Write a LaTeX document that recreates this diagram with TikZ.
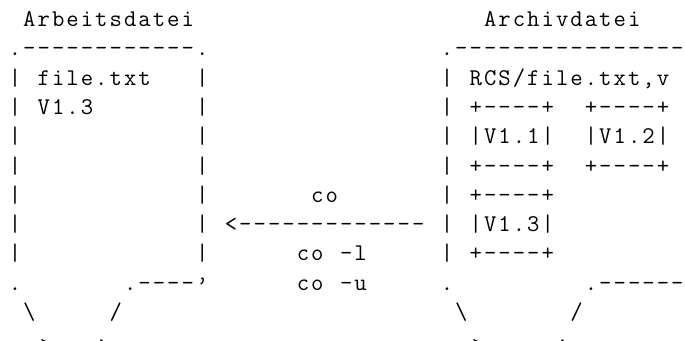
\documentclass[tikz,border=0pt]{standalone}
\usepackage{fontspec}
\setmonofont{Latin Modern Mono}
\newlength\cellw
\setlength\cellw{14.4pt}
% set a string one glyph per fixed-width cell
\def\monorow#1{\monorowi#1\relax}
\def\monorowi#1{\ifx#1\relax\else\hbox to\cellw{\hss#1\hss}\expandafter\monorowi\fi}
\newcommand\asciifont{\ttfamily\fontsize{24}{29}\selectfont}
\tikzset{asc/.style={inner sep=0pt, outer sep=0pt, anchor=base west, font=\asciifont}}
% #1 name, #2 column, #3 row, #4 text
\newcommand\cellat[4]{\node[asc] (#1) at ({7.8+14.4*#2},{340-26.7-29.27*#3}) {\monorow{#4}};}
% a single quote-like glyph, shifted down by #5 in its cell
\newcommand\tickat[5]{\node[asc] (#1) at ({7.8+14.4*#2},{340-26.7-29.27*#3}) {\hbox to\cellw{\hss\raisebox{-#5}{#4}\hss}};}
\begin{document}
\begin{tikzpicture}[x=1pt,y=1pt]
\fill[white] (0,0) rectangle (685,340);
\useasboundingbox (0,0) rectangle (685,340);
\clip (0,0) rectangle (685,340);
% titles
\cellat{wtitle}{1}{0}{Arbeitsdatei}
\cellat{atitle}{33}{0}{Archivdatei}
% working file
\cellat{wtop}{0}{1}{.------------.}
\cellat{wl2}{0}{2}{|}\cellat{wname}{2}{2}{file.txt}\cellat{wr2}{13}{2}{|}
\cellat{wl3}{0}{3}{|}\cellat{wver}{2}{3}{V1.3}\cellat{wr3}{13}{3}{|}
\cellat{wl4}{0}{4}{|}\cellat{wr4}{13}{4}{|}
\cellat{wl5}{0}{5}{|}\cellat{wr5}{13}{5}{|}
\cellat{wl6}{0}{6}{|}\cellat{wr6}{13}{6}{|}
\cellat{wl7}{0}{7}{|}\cellat{wr7}{13}{7}{|}
\cellat{wl8}{0}{8}{|}\cellat{wr8}{13}{8}{|}
\cellat{wbl}{0}{9}{.}\cellat{wbr}{8}{9}{.----}\tickat{wbq}{13}{9}{’}{2pt}
\cellat{wfl}{1}{10}{\textbackslash}\cellat{wfr}{7}{10}{/}
\tickat{wgl}{2}{11}{`}{6pt}\tickat{wgr}{6}{11}{’}{6pt}
% check-out arrow and commands
\cellat{co}{21}{6}{co}
\cellat{arrow}{15}{7}{<-------------}
\cellat{col}{20}{8}{co}\cellat{coloption}{23}{8}{-l}
\cellat{cou}{20}{9}{co}\cellat{cuoption}{23}{9}{-u}
% archive file
\cellat{atop}{30}{1}{.----------------}
\cellat{al2}{30}{2}{|}\cellat{aname}{32}{2}{RCS/file.txt,v}
\cellat{al3}{30}{3}{|}\cellat{ra}{32}{3}{+----+}\cellat{rb}{40}{3}{+----+}
\cellat{al4}{30}{4}{|}\cellat{va}{32}{4}{|V1.1|}\cellat{vb}{40}{4}{|V1.2|}
\cellat{al5}{30}{5}{|}\cellat{rc}{32}{5}{+----+}\cellat{rd}{40}{5}{+----+}
\cellat{al6}{30}{6}{|}\cellat{re}{32}{6}{+----+}
\cellat{al7}{30}{7}{|}\cellat{vc}{32}{7}{|V1.3|}
\cellat{al8}{30}{8}{|}\cellat{rf}{32}{8}{+----+}
\cellat{abl}{30}{9}{.}\cellat{abr}{40}{9}{.------}
\cellat{afl}{31}{10}{\textbackslash}\cellat{afr}{39}{10}{/}
\tickat{agl}{32}{11}{`}{6pt}\tickat{agr}{38}{11}{’}{6pt}
\end{tikzpicture}
\end{document}
